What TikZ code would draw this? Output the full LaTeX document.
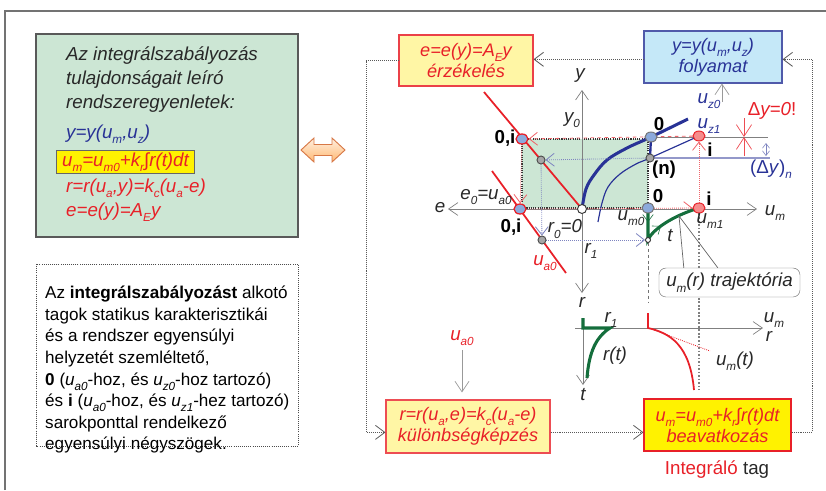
\documentclass[tikz,border=0pt]{standalone}
\usepackage{fontspec}
\setmainfont{Liberation Sans}
\usetikzlibrary{arrows.meta, shapes.geometric, decorations.markings, calc}

\definecolor{tred}{RGB}{232,32,40}
\definecolor{tblue}{RGB}{40,50,150}
\definecolor{boxgreen}{RGB}{204,230,212}
\definecolor{paleyellow}{RGB}{255,246,165}
\definecolor{hotyellow}{RGB}{255,242,0}
\definecolor{skyblue}{RGB}{197,232,248}
\definecolor{frameblue}{RGB}{80,90,170}
\definecolor{dgreen}{RGB}{20,110,60}
\definecolor{ptblue}{RGB}{140,170,220}
\definecolor{ptred}{RGB}{245,140,140}
\definecolor{txtgray}{RGB}{40,40,40}
\definecolor{arrline}{RGB}{215,120,70}

\newcommand{\ix}[1]{\raisebox{-0.55ex}{\fontsize{10}{10}\selectfont #1}}
\pgfdeclarelayer{background}
\pgfsetlayers{background,main}

\begin{document}
\begin{tikzpicture}[x=0.03cm, y=-0.03cm,
		every node/.style={font=\fontsize{16}{19}\selectfont, text=txtgray},
		lbl/.style={font=\fontsize{16}{19}\selectfont\itshape},
		ptlbl/.style={font=\fontsize{16}{19}\selectfont\bfseries, text=black},
		eqbox/.style={draw, line width=0.9pt, align=center, inner sep=1pt,
			font=\fontsize{15.5}{18}\selectfont\itshape},
		fb/.style={black!65, densely dotted, line width=0.7pt, -{Straight Barb[length=8pt,width=12pt]}},
		inarr/.style={black!40, line width=0.6pt, -{Straight Barb[length=9pt,width=12pt]}},
		axis/.style={black!50, line width=0.6pt, -{Straight Barb[length=8pt,width=11pt]}},
		redln/.style={tred, line width=1.5pt},
		reddot/.style={tred!70, densely dotted, line width=0.7pt, -{Straight Barb[length=7pt,width=11pt]}},
		bluedot/.style={tblue!60, densely dotted, line width=0.7pt, -{Straight Barb[length=7pt,width=11pt]}},
		bpt/.style={ellipse, draw=black!55, fill=ptblue, line width=0.8pt, minimum width=0.36cm, minimum height=0.3cm, inner sep=0pt},
		bptr/.style={bpt, draw=tred, line width=1.1pt},
		rpt/.style={bpt, draw=tred, fill=ptred},
		gpt/.style={circle, draw=black!70, fill=black!35, line width=0.8pt, minimum size=0.24cm, inner sep=0pt},
		wpt/.style={circle, draw=black!80, fill=white, line width=0.8pt, minimum size=0.27cm, inner sep=0pt},
		gmark/.style={postaction={decorate, decoration={markings,
			mark=at position 0.15 with {\arrow{Straight Barb[length=6pt,width=9pt,line width=0.5pt]}},
			mark=at position 0.55 with {\arrow{Straight Barb[length=6pt,width=9pt,line width=0.5pt]}}}}}
	]
	\useasboundingbox (0,0) rectangle (826,490);
	\draw[black!55, line width=1pt] (5,490) -- (5,11) -- (826,11);

	% system equations
	\draw[black!65, line width=0.9pt, fill=boxgreen] (36,34) rectangle (298,237);
	\node (tA) at (62,56)  [anchor=west, lbl] {Az integrálszabályozás};
	\node (tB) at (62,80)  [anchor=west, lbl] {tulajdonságait leíró};
	\node (tC) at (62,104) [anchor=west, lbl] {rendszeregyenletek:};
	\node (eqA) at (62,134) [anchor=west, lbl, text=tblue] {y=y(u\ix{m},u\ix{z})};
	\node (eqB) at (56,162) [anchor=west, lbl, text=tred, draw=black!60, fill=hotyellow, inner xsep=5pt, inner ysep=1.5pt] {u\ix{m}=u\ix{m0}+k\ix{r}∫r(t)dt};
	\node (eqC) at (62,188) [anchor=west, lbl, text=tred] {r=r(u\ix{a},y)=k\ix{c}(u\ix{a}-e)};
	\node (eqD) at (62,212) [anchor=west, lbl, text=tred] {e=e(y)=A\ix{E}y};

	\draw[arrline, line width=0.8pt, top color=orange!12, bottom color=orange!55] (301,150) -- (314,138) -- (314,144.5) -- (332,144.5) -- (332,138) -- (345,150) -- (332,162) -- (332,155.5) -- (314,155.5) -- (314,162) -- cycle;

	% explanation
	\draw[black!70, densely dotted, line width=0.8pt] (36,264) rectangle (298,446);
	\node (desc) at (45,286) [anchor=north west, align=left, inner sep=0pt, text=black, font=\fontsize{14.6}{18.4}\selectfont] {Az \textbf{integrálszabályozást} alkotó\\
		tagok statikus karakterisztikái\\
		és a rendszer egyensúlyi\\
		helyzetét szemléltető,\\
		\textbf{0} (\textit{u\ix{a0}}-hoz, és \textit{u\ix{z0}}-hoz tartozó)\\
		és \textbf{i} (\textit{u\ix{a0}}-hoz, és \textit{u\ix{z1}}-hez tartozó)\\
		sarokponttal rendelkező\\
		egyensúlyi négyszögek.};

	% blocks of the loop
	\node (sens) at (466,60.5) [eqbox, draw=tred!85, fill=paleyellow, text=tred, minimum width=4.02cm, minimum height=1.53cm] {e=e(y)=A\ix{E}y\\érzékelés};
	\node (proc) at (713,57) [eqbox, draw=frameblue, fill=skyblue, text=tblue, minimum width=4.14cm, minimum height=1.56cm] {y=y(u\ix{m},u\ix{z})\\folyamat};
	\node (diff) at (468,426.5) [eqbox, draw=tred!80, fill=paleyellow, text=tred, minimum width=4.92cm, minimum height=1.59cm] {r=r(u\ix{a},e)=k\ix{c}(u\ix{a}-e)\\különbségképzés};
	\node (act) at (717.5,425) [eqbox, draw=tred, fill=hotyellow, text=tred, minimum width=4.41cm, minimum height=1.56cm] {u\ix{m}=u\ix{m0}+k\ix{r}∫r(t)dt\\beavatkozás};
	\node (itag) at (717,470) [text=tred] {Integráló \textcolor{txtgray}{tag}};
	\node (ua0) at (462,338) [lbl, text=tred] {u\ix{a0}};
	\coordinate (uzin) at (722,102);

	% signal loop
	\draw[fb] ([yshift=-6pt]act.east) -- ++(21,0) |- ([yshift=-2pt]proc.east);
	\draw[fb] ([yshift=-2pt]proc.west) -- ([yshift=-2pt]proc.west -| sens.east);
	\draw[fb] (sens.west) -- ++(-32,0) |- ([yshift=-5pt]diff.west);
	\draw[fb] ([yshift=-5pt]diff.east) -- ([yshift=-5pt]diff.east -| act.west);
	\draw[inarr] (ua0.south) -- ($(ua0.south |- diff.north)+(0,-7)$);
	\draw[inarr] (uzin) -- (uzin |- proc.south);

	% equilibrium points
	\node (P0it) at (522,139) [bptr] {};
	\node (P0ib) at (520,209) [bptr] {};
	\node (Pg1) at (541,160) [gpt] {};
	\node (Pg2) at (542,240) [gpt] {};
	\node (Porig) at (582,209) [wpt] {};
	\node (P0t) at (651,137) [bpt] {};
	\node (Pn) at (650,158) [gpt] {};
	\node (Pz1) at (699,136) [rpt] {};
	\node (P0b) at (648,208) [bpt] {};
	\node (Pib) at (699,208) [rpt] {};
	\node (Ptr) at (648,240) [wpt, minimum size=0.15cm] {};
	\node (traj) at (729.5,282.5) [draw=black!55, fill=white, rounded corners=6pt, minimum width=4.23cm, minimum height=0.87cm, lbl, inner sep=1pt] {u\ix{m}(r) trajektória};

	\begin{pgfonlayer}{background}
	\draw[black!80, densely dotted, line width=0.9pt, fill=boxgreen] (P0it.center) rectangle (P0b.center);
	% axes
	\coordinate (yend) at (582,90);
	\coordinate (eend) at (448,209);
	\coordinate (umend) at (757,209);
	\coordinate (rend) at (582,293);
	\draw[axis] (Porig) -- (yend);
	\draw[axis] (Porig) -- (eend);
	\draw[axis] (Porig) -- (umend);
	\draw[axis] (Porig) -- (rend);
	\coordinate (hA) at (575,328);
	\coordinate (hB) at (763,328);
	\coordinate (vA) at (583,318);
	\coordinate (vB) at (583,385);
	\draw[axis] (hA) -- (hB);
	\draw[axis] (vA) -- (vB);
	% characteristics
	\coordinate (eA) at (484,92);
	\draw[redln] (eA) -- (Porig.center);
	\coordinate (rA) at (492,171);
	\coordinate (rB) at (566,273);
	\draw[redln] (rA) -- (rB);
	\draw[tblue, line width=2.6pt] plot[smooth, tension=0.6] coordinates {(582,209) (586,189) (594,175) (607,160) (627,148) (651,137) (688,119)};
	\draw[tblue, line width=1pt] plot[smooth, tension=0.6] coordinates {(598,222) (602,203) (608,187) (620,174) (636,164) (650,158) (699,136)};
	\draw[tblue, line width=2pt] (P0t.center) -- (Pn.center);
	\coordinate (gR) at (768,137);
	\draw[black!50, line width=0.7pt] (P0t) -- (gR);
	\coordinate (bR) at (770,158);
	\draw[tblue!50, line width=1pt] (Pn) -- (bR);
	% cycles
	\draw[reddot, dashed] (Pz1) -- (P0it);
	\draw[reddot] (P0it) -- (P0ib);
	\draw[reddot] (P0ib) -- (Pib);
	\draw[reddot] (Pib) -- (Pz1);
	\draw[bluedot] (Pn) -- (Pg1);
	\draw[bluedot] (Pg1) -- (Pg2);
	\draw[bluedot] (Pg2) -- (Ptr);
	\draw[dgreen, line width=2.6pt, gmark] (P0b.center) -- (Ptr.center) .. controls (652,230) and (672,216) .. (Pib.center);
	\coordinate (trA) at (648,302);
	\draw[black!55, densely dashed, line width=0.8pt] (Ptr) -- (trA);
	\coordinate (iA) at (699,390);
	\draw[black!50, dash pattern=on 1.5pt off 1.5pt, line width=0.9pt] (Pib.south) -- (iA);
	\coordinate (trpt) at (679,216);
	\draw[black!60, line width=0.6pt] ([xshift=-39pt]traj.north) -- (trpt) -- ([xshift=-10pt]traj.north);
	% time responses
	\draw[dgreen, line width=2.6pt] (583,318) -- (583,328) -- (610,328) .. controls (596,337) and (589,352) .. (587,378);
	\coordinate (mA) at (648,313);
	\draw[redln] (mA) -- (648,328) .. controls (670,333) and (690,345) .. (694,390);
	\draw[tred, densely dotted, line width=0.7pt] (654,330) -- (710,351);
	% deviations
	\coordinate (dyT) at (744,118);
	\coordinate (dyM) at (744,137);
	\coordinate (dyB) at (744,156);
	\draw[tred!80, line width=0.6pt, -{Straight Barb[length=10pt,width=13pt]}] (dyT) -- (dyM);
	\draw[tred!80, line width=0.6pt, -{Straight Barb[length=10pt,width=13pt]}] (dyB) -- (dyM);
	\coordinate (dnT) at (766,143);
	\coordinate (dnB) at (766,156);
	\draw[tblue!60, line width=0.5pt, {Straight Barb[length=4pt,width=6pt]}-{Straight Barb[length=4pt,width=6pt]}] (dnT) -- (dnB);
	\end{pgfonlayer}

	% labels
	\node (ly) at (580,75) [lbl] {y};
	\node (ly0) at (572,120) [lbl] {y\ix{0}};
	\node (le) at (440,208) [lbl] {e};
	\node (lum) at (775,213) [lbl] {u\ix{m}};
	\node (lr) at (582,302) [lbl] {r};
	\node (le0) at (486,197) [lbl] {e\ix{0}=u\ix{a0}};
	\node (lr0) at (565,229) [lbl] {r\ix{0}=0};
	\node (lua0) at (545,263) [lbl, text=tred] {u\ix{a0}};
	\node (lr1) at (591,251) [lbl] {r\ix{1}};
	\node (l0it) at (505,138) [ptlbl] {0,i};
	\node (l0ib) at (511,227) [ptlbl] {0,i};
	\node (l0t) at (659,124) [ptlbl] {0};
	\node (lit) at (710,150) [ptlbl] {i};
	\node (ln) at (664,170) [ptlbl] {(n)};
	\node (l0b) at (658,196) [ptlbl] {0};
	\node (lib) at (709,199) [ptlbl] {i};
	\node (luz0) at (709,101) [lbl, text=tblue] {u\ix{z0}};
	\node (luz1) at (709,126) [lbl, text=tblue] {u\ix{z1}};
	\node (ldy) at (772,111) [text=tred] {Δ\textit{y=0}!};
	\node (ldyn) at (771,169) [text=tblue] {(Δ\textit{y})\ix{\textit{n}}};
	\node (lum0) at (631,218) [lbl] {u\ix{m0}};
	\node (lum1) at (710,221) [lbl] {u\ix{m1}};
	\node (lt) at (670,236) [lbl] {t};
	\node (lum2) at (774,320) [lbl] {u\ix{m}};
	\node (lr2) at (769,336) [lbl] {r};
	\node (lr12) at (611,320) [lbl] {r\ix{1}};
	\node (lrt) at (615,356) [lbl] {r(t)};
	\node (lumt) at (735,361) [lbl] {u\ix{m}(t)};
	\node (lt2) at (583,395) [lbl] {t};
\end{tikzpicture}
\end{document}
